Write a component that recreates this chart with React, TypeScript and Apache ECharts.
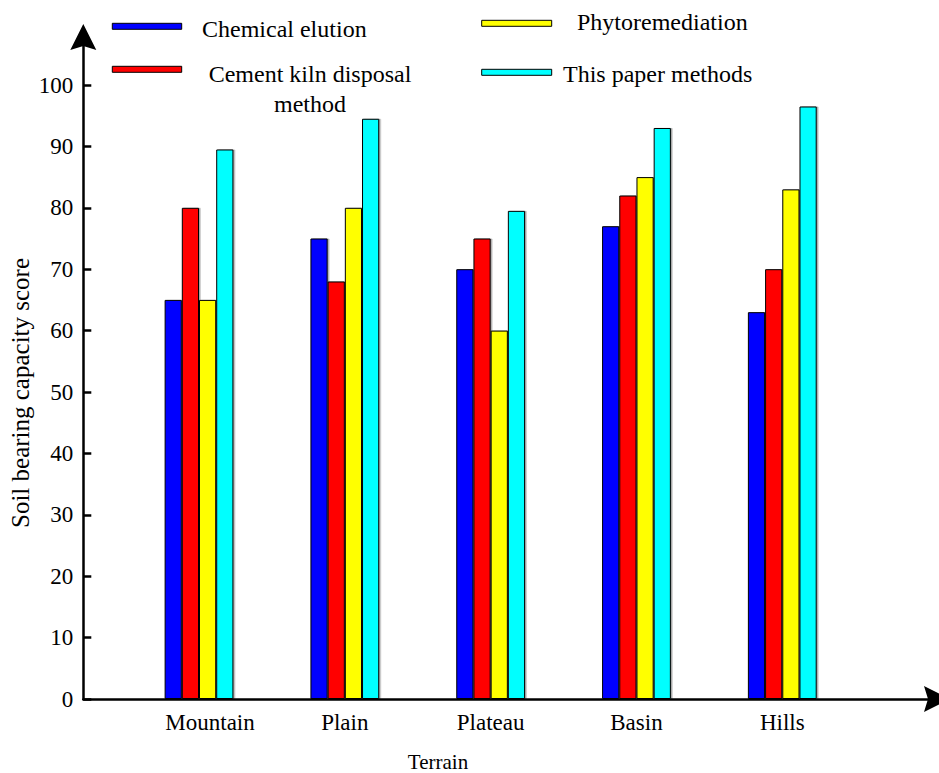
import React, { useEffect, useRef } from "react";
import * as echarts from "echarts";

const categories = ["Mountain", "Plain", "Plateau", "Basin", "Hills"];
const seriesNames = [
  "Chemical elution",
  "Cement kiln disposal method",
  "Phytoremediation",
  "This paper methods",
];
const chemicalElution = [65, 75, 70, 77, 63];
const cementKiln = [80, 68, 75, 82, 70];
const phytoremediation = [65, 80, 60, 85, 83];
const thisPaper = [89.5, 94.5, 79.5, 93, 96.5];
const colors = ["#0000FF", "#FF0000", "#FFFF00", "#00FFFF"];
const yTicksMax = 100;
const yInterval = 10;

const FONT = "Liberation Serif";
const ARROW = "path://M13,0 L26,26 L13,22 L0,26 Z";

export default function App() {
  const ref = useRef<HTMLDivElement>(null);
  useEffect(() => {
    if (!ref.current) return;
    const chart = echarts.init(ref.current, undefined, { renderer: "svg" });
    const values = [chemicalElution, cementKiln, phytoremediation, thisPaper];
    const axisLineStyle = { color: "#000", width: 2.5 };
    const textStyle = (size: number) => ({ fill: "#000", fontFamily: FONT, fontSize: size });
    const option: any = {
      animation: false,
      backgroundColor: "#fff",
      textStyle: { fontFamily: FONT },
      grid: [
        { left: 83.3, right: 2, top: 37, bottom: 74 },
        { left: 126.1, right: 83.8, top: 85, bottom: 74 },
      ],
      xAxis: [
        {
          gridIndex: 0,
          type: "value",
          min: 0,
          max: 1,
          axisLine: {
            show: true,
            lineStyle: axisLineStyle,
            symbol: ["none", ARROW],
            symbolSize: [26, 26],
          },
          axisTick: { show: false },
          axisLabel: { show: false },
          splitLine: { show: false },
        },
        {
          gridIndex: 1,
          type: "category",
          data: categories,
          axisLine: { show: false },
          axisTick: { show: false },
          axisLabel: {
            interval: 0,
            hideOverlap: false,
            margin: 12,
            color: "#000",
            fontFamily: FONT,
            fontSize: 23,
            formatter: (v: string) => (v === "Mountain" ? "{m|" + v + "}" : v),
            rich: {
              m: { fontFamily: FONT, fontSize: 23, color: "#000", padding: [0, 0, 0, 22] },
            },
          },
          splitLine: { show: false },
        },
      ],
      yAxis: [
        {
          gridIndex: 0,
          type: "value",
          min: 0,
          max: (100 * 662) / 614,
          axisLine: {
            show: true,
            lineStyle: axisLineStyle,
            symbol: ["none", ARROW],
            symbolSize: [26, 26],
          },
          axisTick: { show: false },
          axisLabel: { show: false },
          splitLine: { show: false },
        },
        {
          gridIndex: 1,
          type: "value",
          min: 0,
          max: yTicksMax,
          interval: yInterval,
          offset: 42.8,
          axisLine: { show: false },
          axisTick: {
            show: true,
            inside: true,
            length: 8,
            lineStyle: { color: "#000", width: 2.5 },
          },
          axisLabel: {
            margin: 10,
            color: "#000",
            fontFamily: FONT,
            fontSize: 23,
          },
          splitLine: { show: false },
        },
      ],
      series: seriesNames.map((name, i) => ({
        name,
        type: "bar",
        xAxisIndex: 1,
        yAxisIndex: 1,
        data: values[i],
        barWidth: 17.2,
        barGap: "0%",
        itemStyle: {
          color: colors[i],
          borderColor: "#000",
          borderWidth: 1,
          shadowColor: "rgba(0,0,0,0.35)",
          shadowOffsetX: 1.5,
          shadowOffsetY: 0,
          shadowBlur: 1,
        },
      })),
      graphic: [
        { type: "rect", shape: { x: 112.3, y: 23.3, width: 69.4, height: 6 }, style: { fill: colors[0], stroke: "#000", lineWidth: 1 } },
        { type: "rect", shape: { x: 112.3, y: 66.3, width: 69.4, height: 6 }, style: { fill: colors[1], stroke: "#000", lineWidth: 1 } },
        { type: "rect", shape: { x: 481.7, y: 20.3, width: 70, height: 6 }, style: { fill: colors[2], stroke: "#000", lineWidth: 1 } },
        { type: "rect", shape: { x: 481.7, y: 69.3, width: 70, height: 6 }, style: { fill: colors[3], stroke: "#000", lineWidth: 1 } },
        {
          type: "text",
          x: 202,
          y: 28.7,
          style: { text: "Chemical elution", ...textStyle(24), align: "left", verticalAlign: "middle" },
        },
        {
          type: "text",
          x: 310,
          y: 58.5,
          style: {
            text: "Cement kiln disposal\nmethod",
            ...textStyle(24),
            lineHeight: 30,
            align: "center",
            verticalAlign: "top",
          },
        },
        {
          type: "text",
          x: 577,
          y: 22,
          style: { text: "Phytoremediation", ...textStyle(24), align: "left", verticalAlign: "middle" },
        },
        {
          type: "text",
          x: 563,
          y: 73.5,
          style: { text: "This paper methods", ...textStyle(24), align: "left", verticalAlign: "middle" },
        },
        {
          type: "text",
          x: 438,
          y: 762,
          style: { text: "Terrain", ...textStyle(21), align: "center", verticalAlign: "middle" },
        },
        {
          type: "text",
          x: 20,
          y: 393,
          rotation: Math.PI / 2,
          style: {
            text: "Soil bearing capacity score",
            ...textStyle(25),
            align: "center",
            verticalAlign: "middle",
          },
        },
      ],
    };
    chart.setOption(option);
    return () => chart.dispose();
  }, []);
  return (
    <div
      ref={ref}
      style={{ position: "fixed", left: 0, top: 0, width: 939, height: 773 }}
    />
  );
}
